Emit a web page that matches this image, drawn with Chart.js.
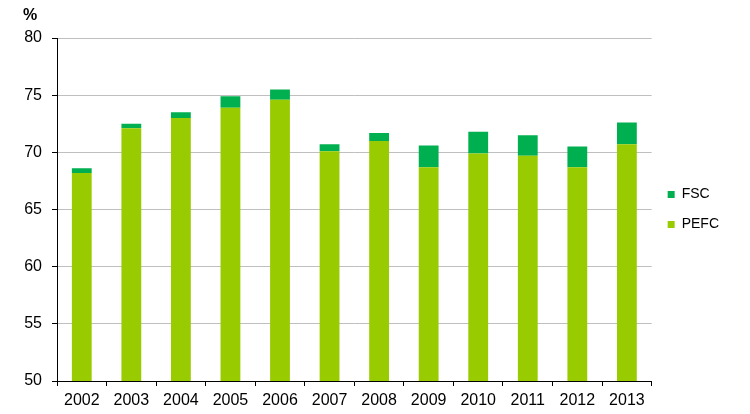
<!DOCTYPE html>
<html>
<head>
<meta charset="utf-8">
<script src="https://cdn.jsdelivr.net/npm/chart.js@4"></script>
<style>
  html, body { margin: 0; padding: 0; background: #fff; }
  #wrap { width: 750px; height: 414px; }
</style>
</head>
<body>
<div id="wrap"><canvas id="certChart" width="750" height="414"></canvas></div>
<script>
// Chart data
const years = ['2002', '2003', '2004', '2005', '2006', '2007', '2008', '2009', '2010', '2011', '2012', '2013'];
const pefcValues = [68.2, 72.1, 73.0, 73.9, 74.6, 70.1, 71.0, 68.7, 69.9, 69.7, 68.7, 70.7];
const fscValues = [0.4, 0.4, 0.5, 1.0, 0.9, 0.6, 0.7, 1.9, 1.9, 1.8, 1.8, 1.9];
const yTicks = [50, 55, 60, 65, 70, 75, 80];

Chart.defaults.font.family = '"Liberation Sans", Arial, sans-serif';
Chart.defaults.color = '#000';

// Unit label above the y axis
const unitLabel = {
    id: 'unitLabel',
    afterDraw(chart) {
        const ctx = chart.ctx;
        ctx.save();
        ctx.font = 'bold 16px "Liberation Sans", Arial, sans-serif';
        ctx.fillStyle = '#000';
        ctx.textAlign = 'left';
        ctx.textBaseline = 'alphabetic';
        ctx.fillText('%', 23, 20);
        ctx.restore();
    }
};

const ctx = document.getElementById('certChart').getContext('2d');
new Chart(ctx, {
    type: 'bar',
    data: {
        labels: years,
        datasets: [
            {
                label: 'PEFC',
                data: pefcValues,
                backgroundColor: '#99CC00',
                barPercentage: 0.4,
                categoryPercentage: 1.0
            },
            {
                label: 'FSC',
                data: fscValues,
                backgroundColor: '#00B050',
                barPercentage: 0.4,
                categoryPercentage: 1.0
            }
        ]
    },
    options: {
        responsive: false,
        animation: false,
        layout: {
            padding: { top: 38, left: 0, right: 21, bottom: 0 }
        },
        plugins: {
            legend: {
                position: 'right',
                fullSize: false,
                reverse: true,
                labels: {
                    boxWidth: 7,
                    boxHeight: 7,
                    padding: 16,
                    color: '#000',
                    font: { size: 14 }
                }
            },
            tooltip: { enabled: false }
        },
        scales: {
            x: {
                stacked: true,
                afterFit: function(scale) { scale.height = 33; },
                grid: {
                    display: true,
                    offset: true,
                    drawOnChartArea: false,
                    drawTicks: true,
                    tickLength: 5,
                    color: '#000'
                },
                border: { display: true, color: '#000', width: 1 },
                ticks: {
                    padding: 5,
                    maxRotation: 0,
                    font: { size: 16 }
                }
            },
            y: {
                stacked: true,
                min: 50,
                max: 80,
                afterFit: function(scale) { scale.width = 57; },
                afterBuildTicks: function(scale) {
                    scale.ticks = yTicks.map(v => ({ value: v }));
                },
                grid: {
                    color: '#BFBFBF',
                    tickColor: '#000',
                    tickLength: 5,
                    lineWidth: 1
                },
                border: { display: true, color: '#000', width: 1 },
                ticks: {
                    padding: 10,
                    font: { size: 16 }
                }
            }
        }
    },
    plugins: [unitLabel]
});
</script>
</body>
</html>
